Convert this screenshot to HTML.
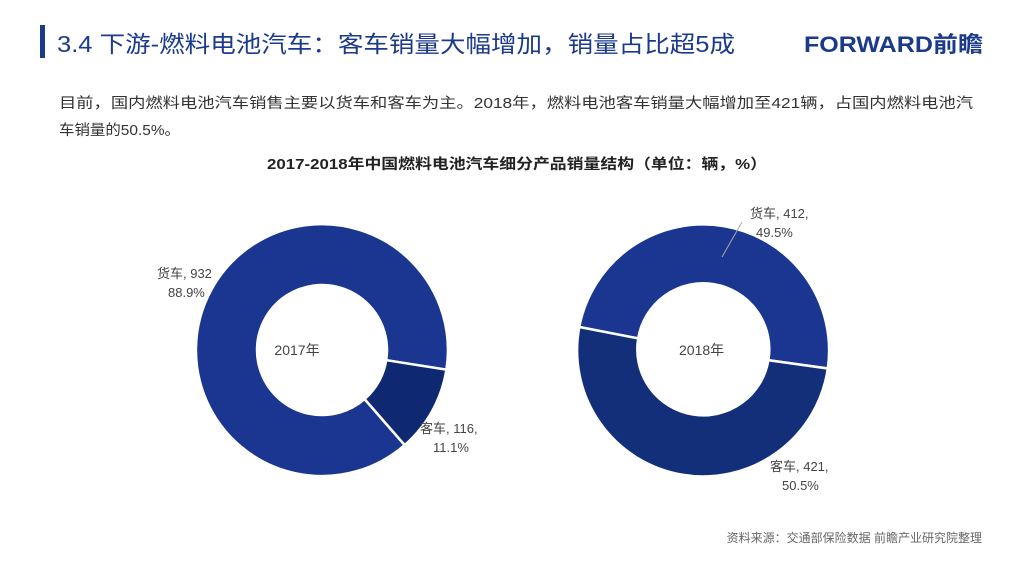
<!DOCTYPE html>
<html><head><meta charset="utf-8"><style>
html,body{margin:0;padding:0;background:#fff;}
body{width:1024px;height:564px;overflow:hidden;font-family:"Liberation Sans","Noto Sans CJK SC",sans-serif;}
</style></head><body>
<svg id="s" width="1024" height="564" xmlns="http://www.w3.org/2000/svg" font-family="Liberation Sans, Noto Sans CJK SC, sans-serif">
<rect x="40" y="25" width="5" height="33" fill="#1b3a8c"/>
<text x="57" y="52" font-size="23" fill="#1b3a8c" textLength="678" lengthAdjust="spacingAndGlyphs">3.4 下游-燃料电池汽车：客车销量大幅增加，销量占比超5成</text>
<text x="804" y="52" font-size="22" font-weight="bold" fill="#1b3a8c" textLength="179" lengthAdjust="spacingAndGlyphs">FORWARD前瞻</text>
<text x="59" y="108" font-size="14.5" fill="#333" textLength="914" lengthAdjust="spacingAndGlyphs">目前，国内燃料电池汽车销售主要以货车和客车为主。2018年，燃料电池客车销量大幅增加至421辆，占国内燃料电池汽</text>
<text x="59" y="135" font-size="14.5" fill="#333" textLength="121" lengthAdjust="spacingAndGlyphs">车销量的50.5%。</text>
<text x="267" y="169" font-size="14.5" font-weight="bold" fill="#222" textLength="500" lengthAdjust="spacingAndGlyphs">2017-2018年中国燃料电池汽车细分产品销量结构（单位：辆，%）</text>
<g id="d"></g>
<g font-size="13" fill="#444">
<text x="297" y="355" text-anchor="middle" font-size="14">2017年</text>
<text x="157" y="278">货车, 932</text>
<text x="168" y="297">88.9%</text>
<text x="420" y="433">客车, 116,</text>
<text x="433" y="452">11.1%</text>
<text x="679" y="355" font-size="14">2018年</text>
<text x="750" y="218">货车, 412,</text>
<text x="756" y="237">49.5%</text>
<text x="770" y="471">客车, 421,</text>
<text x="782" y="490">50.5%</text>
</g>
<line x1="742" y1="222" x2="722" y2="257" stroke="#aaa" stroke-width="1"/>
<text x="982" y="542" font-size="12" fill="#666" text-anchor="end">资料来源：交通部保险数据 前瞻产业研究院整理</text>
</svg>
<script>
function arc(cx,cy,R,r,a0,a1,c){
 function p(rad,a){a=(a-90)*Math.PI/180;return (cx+rad*Math.cos(a)).toFixed(1)+","+(cy+rad*Math.sin(a)).toFixed(1);}
 var L=(a1-a0)>180?1:0;
 return '<path d="M'+p(R,a0)+' A'+R+','+R+' 0 '+L+' 1 '+p(R,a1)+' L'+p(r,a1)+' A'+r+','+r+' 0 '+L+' 0 '+p(r,a0)+' Z" fill="'+c+'" stroke="#fff" stroke-width="2.5"/>';
}
document.getElementById('d').innerHTML=
 arc(322,350,126,65,139,459,'#1a3690')+arc(322,350,126,65,99,139,'#0f2872')+
 arc(703,351,126,66,281,458,'#1a3690')+arc(703,351,126,66,98,281,'#142f7a');
</script>
</body></html>
